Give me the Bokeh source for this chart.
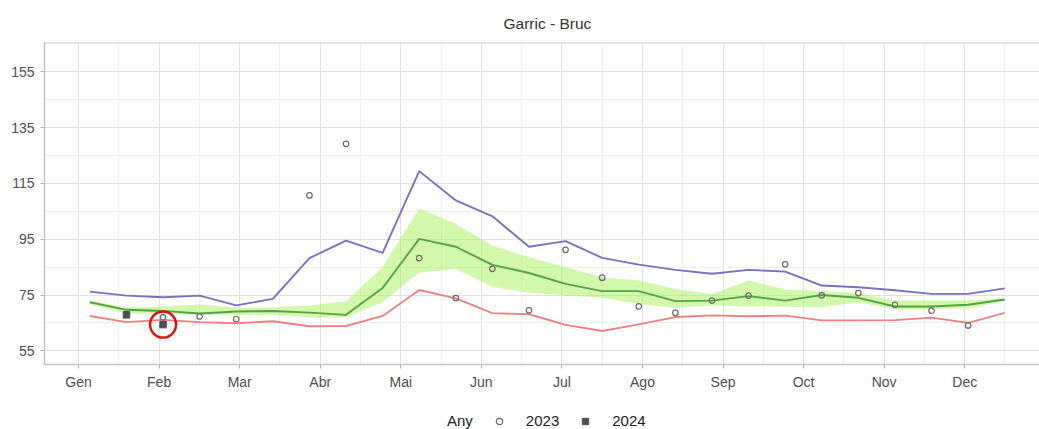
import math
from bokeh.plotting import figure
from bokeh.layouts import column
from bokeh.models import FixedTicker, Legend, LegendItem, Span, Range1d
from bokeh.embed import file_html
from bokeh.resources import INLINE

nan = math.nan

chart_title = "Garric - Bruc"
legend_title = "Any"
legend_labels = ["2023", "2024"]
fortnight = list(range(1, 27))
month_labels = ["Gen", "Feb", "Mar", "Abr", "Mai", "Jun", "Jul", "Ago", "Sep", "Oct", "Nov", "Dec"]
y_ticks = [55, 75, 95, 115, 135, 155]
y_minor = [65, 85, 105, 125, 145, 165]

series_max = [76.2, 74.8, 74.2, 74.8, 71.3, 73.6, 88.2, 94.5, 90.1, 119.4, 108.9, 103.2, 92.3,
              94.3, 88.3, 85.9, 84.0, 82.6, 84.0, 83.4, 78.4, 77.8, 76.7, 75.4, 75.4, 77.4]
series_mid = [72.4, 69.7, 69.3, 68.4, 69.1, 69.3, 68.7, 67.9, 77.5, 95.1, 92.3, 85.8, 82.9,
              79.0, 76.4, 76.4, 72.8, 73.0, 74.6, 73.0, 75.0, 74.0, 70.9, 70.9, 71.5, 73.4]
series_min = [67.5, 65.3, 66.1, 65.3, 64.9, 65.6, 63.8, 63.9, 67.5, 76.8, 73.8, 68.5, 68.1,
              64.3, 62.1, 64.5, 67.1, 67.7, 67.4, 67.6, 65.9, 65.9, 66.0, 66.9, 65.0, 68.6]
band_high = [73.0, 70.5, 70.9, 71.6, 70.4, 70.5, 71.2, 72.8, 85.0, 106.0, 100.5, 92.7, 88.5,
             85.0, 81.4, 80.2, 77.2, 75.4, 80.2, 77.0, 76.4, 75.6, 73.0, 73.0, 73.0, 73.8]
band_low = [71.6, 68.4, 68.2, 67.9, 67.8, 68.0, 67.0, 66.9, 72.5, 83.0, 84.4, 77.9, 75.8,
            74.8, 74.0, 71.8, 70.4, 71.2, 70.9, 70.8, 70.6, 72.4, 70.0, 70.0, 70.2, 72.8]
obs_2023 = [nan, nan, 67.0, 67.3, 66.4, nan, 110.7, 129.2, nan, 88.2, 73.9, 84.4, 69.5,
            91.2, 81.2, 70.9, 68.6, 73.0, 74.8, 86.0, 74.9, 75.7, 71.5, 69.4, 64.1, nan]
obs_2024 = [nan, 67.9, 64.4, nan, nan, nan, nan, nan, nan, nan, nan, nan, nan,
            nan, nan, nan, nan, nan, nan, nan, nan, nan, nan, nan, nan, nan]
highlight = 2  # index of the circled 2024 observation

# month tick positions in fortnight units (equally spaced)
month_start = 0.691
month_step = 2.2014
month_pos = [month_start + month_step * i for i in range(len(month_labels))]
month_minor = [month_start + month_step * (i - 0.5) for i in range(len(month_labels) + 2)]

FONT = "Liberation Sans"
BORDER = "#c4c4c4"
C23 = dict(marker="circle", size=5.5, fill_color=None, line_color="#6b6b6b", line_width=1.2)
C24 = dict(marker="square", size=6.5, fill_color="#4f4f4f", line_color="#4f4f4f")

p = figure(width=1039, height=395, output_backend="svg", toolbar_location=None,
           x_range=Range1d(-0.24, 26.95), y_range=Range1d(50.1, 165.5),
           min_border_left=44, min_border_right=0, min_border_top=42, min_border_bottom=31)
p.outline_line_color = None
p.background_fill_color = "white"
p.border_fill_color = "white"

p.title.text = chart_title
p.title.align = "left"
p.title.offset = 459
p.title.text_font = FONT
p.title.text_font_size = "15.5px"
p.title.text_font_style = "normal"
p.title.text_color = "#333333"
p.title.standoff = 21

# grids
p.xgrid.ticker = FixedTicker(ticks=month_pos, minor_ticks=month_minor)
p.ygrid.ticker = FixedTicker(ticks=y_ticks, minor_ticks=y_minor)
for g in (p.xgrid, p.ygrid):
    g.grid_line_color = "#e2e2e2"
    g.grid_line_width = 1
    g.minor_grid_line_color = "#f0f0f0"
    g.minor_grid_line_width = 1

# axes
p.xaxis.ticker = FixedTicker(ticks=month_pos, minor_ticks=[])
p.xaxis.major_label_overrides = {pos: lab for pos, lab in zip(month_pos, month_labels)}
p.yaxis.ticker = FixedTicker(ticks=y_ticks, minor_ticks=[])
for ax in (p.xaxis[0], p.yaxis[0]):
    ax.axis_line_color = BORDER
    ax.axis_line_width = 1.5
    ax.major_tick_line_color = "#b3b3b3"
    ax.major_tick_out = 4
    ax.major_tick_in = 0
    ax.minor_tick_line_color = None
    ax.major_label_text_font = FONT
    ax.major_label_text_font_size = "14px"
    ax.major_label_text_color = "#4d4d4d"
p.xaxis.major_label_standoff = 5
p.yaxis.major_label_standoff = 6

p.add_layout(Span(location=165.5, dimension="width", line_color=BORDER, line_width=1.5))

# ribbon and lines
p.varea(x=fortnight, y1=band_low, y2=band_high, fill_color="#a6f25a", fill_alpha=0.5)
p.line(fortnight, series_max, line_color="#7a70c0", line_width=1.9)
p.line(fortnight, series_min, line_color="#ef8080", line_width=1.9)
p.line(fortnight, series_mid, line_color="#52a447", line_width=1.9)

p.scatter(fortnight, obs_2023, **C23)
p.scatter(fortnight, obs_2024, **C24)

p.scatter([fortnight[highlight]], [obs_2024[highlight]], marker="circle", size=26,
          fill_color=None, line_color="#e01010", line_width=2.5)

# legend strip below the plot
p2 = figure(width=1039, height=34, output_backend="svg", toolbar_location=None,
            x_range=Range1d(0, 1), y_range=Range1d(0, 1),
            x_axis_location=None, y_axis_location=None, min_border=0)
p2.grid.visible = False
p2.outline_line_color = None
p2.background_fill_color = "white"
p2.border_fill_color = "white"
k_title = p2.scatter([nan], [nan], marker="circle", size=1, fill_alpha=0, line_alpha=0)
k23 = p2.scatter([nan], [nan], **C23)
k24 = p2.scatter([nan], [nan], **C24)

legend = Legend(items=[LegendItem(label=legend_title, renderers=[k_title]),
                       LegendItem(label=legend_labels[0], renderers=[k23]),
                       LegendItem(label=legend_labels[1], renderers=[k24])],
                orientation="horizontal", location=(366, 0))
legend.label_text_font = FONT
legend.label_text_font_size = "15px"
legend.label_text_color = "#222222"
legend.label_standoff = 17
legend.glyph_width = 20
legend.glyph_height = 16
legend.label_height = 16
legend.spacing = 16
legend.padding = 0
legend.margin = 0
legend.border_line_color = None
legend.background_fill_color = None
p2.add_layout(legend)

open("out.html", "w").write(file_html(column(p, p2, spacing=0), INLINE))
